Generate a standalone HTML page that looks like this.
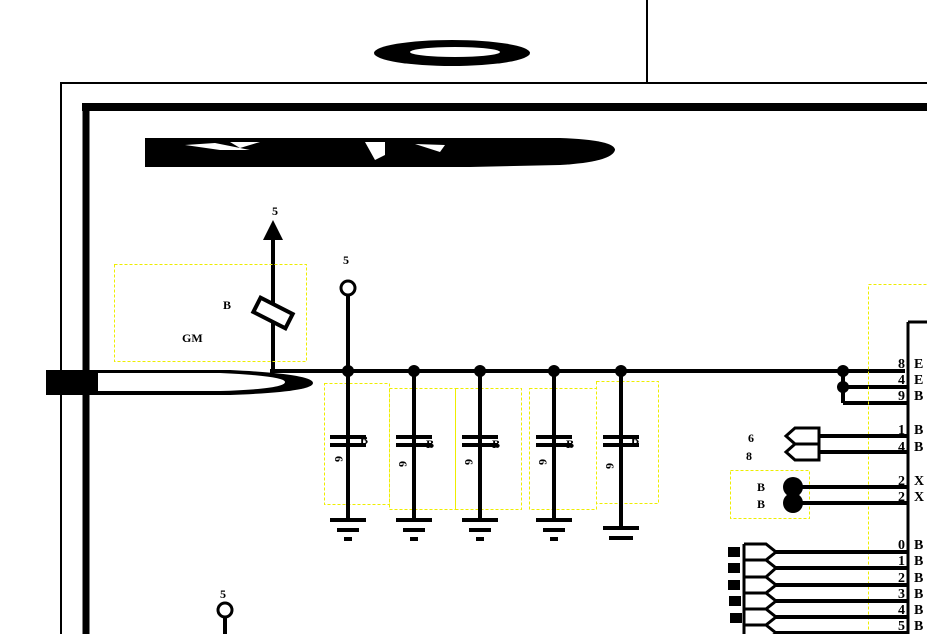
<!DOCTYPE html>
<html><head><meta charset="utf-8"><style>
html,body{margin:0;padding:0;background:#fff;width:927px;height:634px;overflow:hidden}
svg{display:block}
text{font-family:"Liberation Serif",serif;font-weight:bold;fill:#000}
</style></head><body>
<svg width="927" height="634" viewBox="0 0 927 634" xmlns="http://www.w3.org/2000/svg">
<g stroke="#000" fill="none">
<line x1="60" y1="83" x2="927" y2="83" stroke-width="2"/>
<line x1="647" y1="0" x2="647" y2="83" stroke-width="2"/>
<line x1="61" y1="83" x2="61" y2="634" stroke-width="2"/>
<line x1="82" y1="107" x2="927" y2="107" stroke-width="8"/>
<line x1="86" y1="104" x2="86" y2="634" stroke-width="7"/>
</g>
<!-- 6 blob -->
<ellipse cx="452" cy="53" rx="78" ry="13" fill="#000"/>
<ellipse cx="455" cy="52" rx="45" ry="5" fill="#fff"/>
<!-- title blob -->
<path d="M145 138 L560 138 Q615 140 615 150 Q612 162 560 165 L470 167 L145 167 Z" fill="#000"/>
<path d="M185 145 L215 143 L250 150 L220 150 Z M230 142 L260 142 L240 148 Z M365 142 L385 142 L385 155 L375 160 Z M415 144 L445 145 L440 152 Z" fill="#fff"/>
<!-- left connector -->
<rect x="46" y="370" width="52" height="25" fill="#000"/>
<path d="M96 370 L230 370 Q313 374 313 383 Q313 392 230 395 L96 395 Z" fill="#000"/>
<path d="M98 373 L220 373 Q285 376 285 382 Q285 389 220 391 L98 391 Z" fill="#fff"/>
<g stroke="#000" stroke-width="4" fill="none">
<line x1="270" y1="371" x2="905" y2="371"/>
<line x1="273" y1="371" x2="273" y2="238"/>
<line x1="348" y1="371" x2="348" y2="296"/>
<line x1="843" y1="371" x2="843" y2="403"/>
<line x1="843" y1="387" x2="908" y2="387"/>
<line x1="843" y1="403" x2="908" y2="403"/>
<line x1="908" y1="322" x2="908" y2="634" stroke-width="3"/>
<line x1="908" y1="322" x2="927" y2="322" stroke-width="3"/>
<line x1="225" y1="618" x2="225" y2="634"/>
</g>
<polygon points="273,220 263,240 283,240" fill="#000"/>
<rect x="-18" y="-8" width="36" height="16" transform="translate(273,313) rotate(27)" fill="#fff" stroke="#000" stroke-width="4"/>
<circle cx="348" cy="288" r="7" fill="#fff" stroke="#000" stroke-width="3"/>
<circle cx="225" cy="610" r="7" fill="#fff" stroke="#000" stroke-width="3"/>
<rect x="114.5" y="264.5" width="192" height="97" fill="none" stroke="#ee0" stroke-dasharray="3,2"/>
<g stroke="#ee0" fill="none" stroke-dasharray="3,2">
<rect x="324.5" y="383.5" width="65" height="121"/>
<rect x="389.5" y="388.5" width="66" height="121"/>
<rect x="455.5" y="388.5" width="66" height="121"/>
<rect x="529.5" y="388.5" width="67" height="121"/>
<rect x="596.5" y="381.5" width="62" height="122"/>
<rect x="868.5" y="284.5" width="70" height="360"/>
<rect x="730.5" y="470.5" width="79" height="48"/>
</g>
<g fill="#000">
<circle cx="348" cy="371" r="6"/><circle cx="414" cy="371" r="6"/><circle cx="480" cy="371" r="6"/><circle cx="554" cy="371" r="6"/><circle cx="621" cy="371" r="6"/>
<circle cx="843" cy="371" r="6"/><circle cx="843" cy="387" r="6"/>
</g>
<g stroke="#000" stroke-width="4">
<line x1="348" y1="371" x2="348" y2="520"/><line x1="330" y1="437" x2="366" y2="437"/><line x1="330" y1="445" x2="366" y2="445"/><line x1="330" y1="520" x2="366" y2="520"/><line x1="337" y1="530" x2="359" y2="530"/><line x1="344" y1="539" x2="352" y2="539"/>
<line x1="414" y1="371" x2="414" y2="520"/><line x1="396" y1="437" x2="432" y2="437"/><line x1="396" y1="445" x2="432" y2="445"/><line x1="396" y1="520" x2="432" y2="520"/><line x1="403" y1="530" x2="425" y2="530"/><line x1="410" y1="539" x2="418" y2="539"/>
<line x1="480" y1="371" x2="480" y2="520"/><line x1="462" y1="437" x2="498" y2="437"/><line x1="462" y1="445" x2="498" y2="445"/><line x1="462" y1="520" x2="498" y2="520"/><line x1="469" y1="530" x2="491" y2="530"/><line x1="476" y1="539" x2="484" y2="539"/>
<line x1="554" y1="371" x2="554" y2="520"/><line x1="536" y1="437" x2="572" y2="437"/><line x1="536" y1="445" x2="572" y2="445"/><line x1="536" y1="520" x2="572" y2="520"/><line x1="543" y1="530" x2="565" y2="530"/><line x1="550" y1="539" x2="558" y2="539"/>
<line x1="621" y1="371" x2="621" y2="528"/><line x1="603" y1="437" x2="639" y2="437"/><line x1="603" y1="445" x2="639" y2="445"/><line x1="603" y1="528" x2="639" y2="528"/><line x1="609" y1="538" x2="633" y2="538"/>
</g>
<g font-size="12">
<text x="360" y="444">B</text><text x="426" y="448">B</text><text x="492" y="448">B</text><text x="566" y="448">B</text><text x="631" y="444">B</text>
<text x="336" y="465" transform="rotate(90 340 460)">6</text>
<text x="400" y="470" transform="rotate(90 404 465)">6</text>
<text x="466" y="468" transform="rotate(90 470 463)">6</text>
<text x="540" y="468" transform="rotate(90 544 463)">6</text>
<text x="607" y="472" transform="rotate(90 611 467)">6</text>
<text x="272" y="215">5</text><text x="343" y="264">5</text><text x="220" y="598">5</text>
<text x="223" y="309">B</text><text x="182" y="342">GM</text>
<text x="748" y="442">6</text><text x="746" y="460">8</text>
<text x="757" y="491">B</text><text x="757" y="508">B</text>
</g>
<!-- right connectors -->
<g stroke="#000" stroke-width="4" fill="none">
<line x1="820" y1="436" x2="908" y2="436"/><line x1="820" y1="452" x2="908" y2="452"/>
<path d="M819 428 L795 428 L786 436 L795 444 L819 444 Z M819 444 L795 444 L786 452 L795 460 L819 460 Z" stroke-width="3"/>
<line x1="793" y1="487" x2="908" y2="487"/><line x1="793" y1="503" x2="908" y2="503"/>
</g>
<circle cx="793" cy="487" r="10" fill="#000"/><circle cx="793" cy="503" r="10" fill="#000"/>
<g stroke="#000" stroke-width="3" fill="none">
<path d="M744 544 L766 544 L776 552 L766 560 L744 560 M744 560 L766 560 L776 568 L766 577 L744 577 M744 577 L766 577 L776 585 L766 593 L744 593 M744 593 L766 593 L776 601 L766 609 L744 609 M744 609 L766 609 L776 617 L766 625 L744 625 M744 625 L766 625 L776 633 L766 641 L744 641 M744 544 L744 634"/>
</g>
<g stroke="#000" stroke-width="4">
<line x1="776" y1="552" x2="908" y2="552"/><line x1="776" y1="568" x2="908" y2="568"/><line x1="776" y1="585" x2="908" y2="585"/><line x1="776" y1="601" x2="908" y2="601"/><line x1="776" y1="617" x2="908" y2="617"/><line x1="776" y1="633" x2="908" y2="633"/>
</g>
<g fill="#000" font-size="12">
<rect x="728" y="547" width="12" height="10"/><rect x="728" y="563" width="12" height="10"/><rect x="728" y="580" width="12" height="10"/><rect x="729" y="596" width="12" height="10"/><rect x="730" y="613" width="12" height="10"/>
</g>
<g font-size="14">
<text x="898" y="368">8</text><text x="898" y="384">4</text><text x="898" y="400">9</text>
<text x="898" y="434">1</text><text x="898" y="451">4</text>
<text x="898" y="485">2</text><text x="898" y="501">2</text>
<text x="898" y="549">0</text><text x="898" y="565">1</text><text x="898" y="582">2</text><text x="898" y="598">3</text><text x="898" y="614">4</text><text x="898" y="630">5</text>
<text x="914" y="368">E</text><text x="914" y="384">E</text><text x="914" y="400">B</text>
<text x="914" y="434">B</text><text x="914" y="451">B</text>
<text x="914" y="485">X</text><text x="914" y="501">X</text>
<text x="914" y="549">B</text><text x="914" y="565">B</text><text x="914" y="582">B</text><text x="914" y="598">B</text><text x="914" y="614">B</text><text x="914" y="630">B</text>
</g>
</svg>
</body></html>
